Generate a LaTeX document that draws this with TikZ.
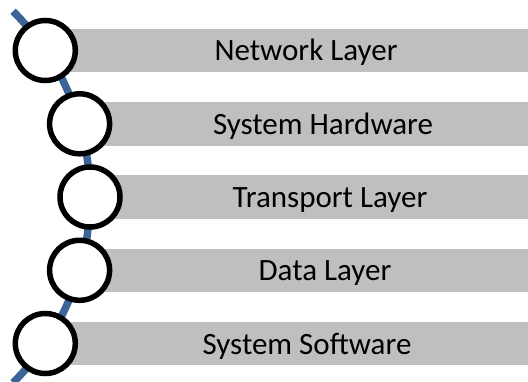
\documentclass[tikz,border=0pt]{standalone}
\usepackage{fontspec}
\setmainfont{Carlito}
\definecolor{spineblue}{HTML}{3B6598}
\definecolor{bargray}{HTML}{BFBFBF}
\tikzset{
  spine/.style={draw=spineblue, line width=7.5pt, line cap=butt},
  ring/.style={circle, draw=black, fill=white, line width=5.5pt, minimum size=60pt, inner sep=0pt},
  barfill/.style={fill=bargray},
  label/.style={anchor=base, font=\fontsize{31}{36}\selectfont, text=black, inner sep=0pt}
}
\begin{document}
\begin{tikzpicture}[x=1pt,y=-1pt]
\useasboundingbox (0,0) rectangle (528,382);
% bars
\fill[barfill] (45,29) rectangle (528,72);
\fill[barfill] (79,102) rectangle (528,146);
\fill[barfill] (90,175) rectangle (528,219);
\fill[barfill] (79,249) rectangle (528,292);
\fill[barfill] (45,322) rectangle (528,365);
% spine
\coordinate (ctop) at (13.1,11.3);
\draw[spine] (ctop) arc[start angle=-45, end angle=45, radius=262.6];
% circles
\node[ring] (c1) at (45.3,50.5) {};
\node[ring] (c2) at (79.6,123.8) {};
\node[ring] (c3) at (90,197) {};
\node[ring] (c4) at (79.6,270.3) {};
\node[ring] (c5) at (45.3,343.5) {};
% labels
\node[label] (t1) at (306,61) {Network Layer};
\node[label] (t2) at (323,134.5) {System Hardware};
\node[label] (t3) at (330,208) {Transport Layer};
\node[label] (t4) at (325,281) {Data Layer};
\node[label] (t5) at (307,354.5) {System Software};
\end{tikzpicture}
\end{document}
